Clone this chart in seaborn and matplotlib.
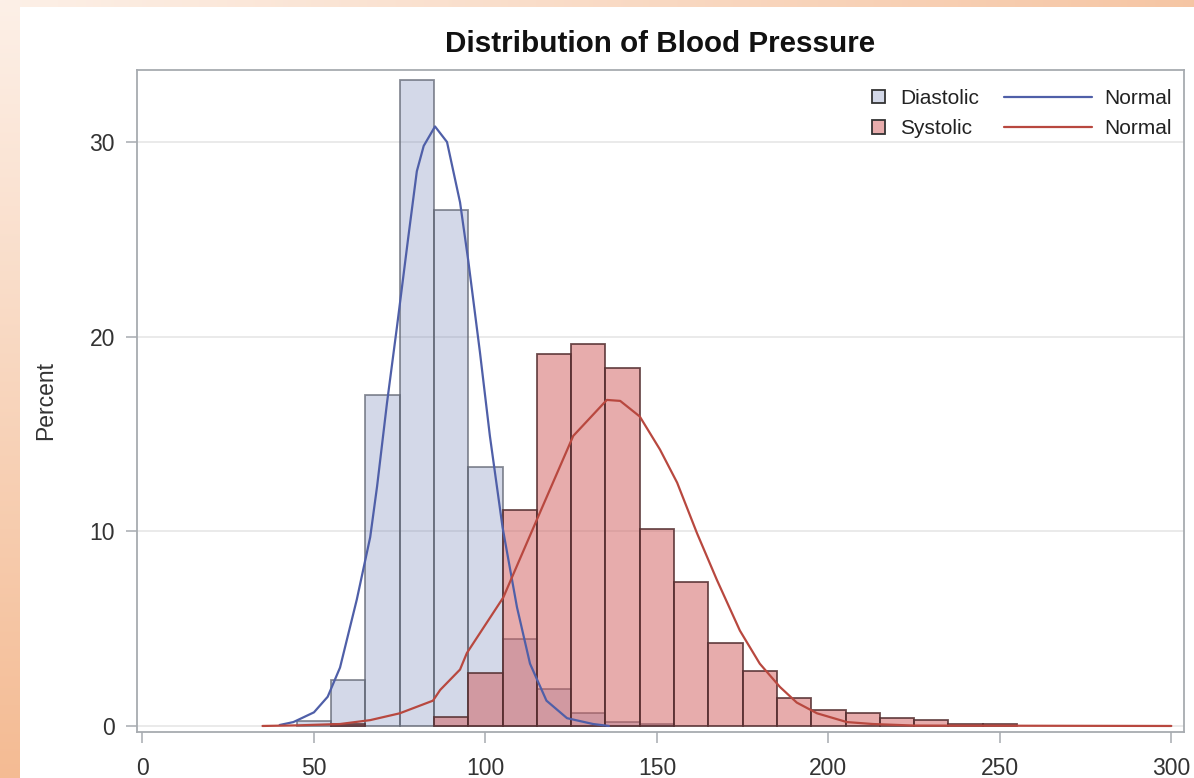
import numpy as np
import pandas as pd
import matplotlib
matplotlib.use("Agg")
import matplotlib.pyplot as plt
from matplotlib.patches import Patch, Rectangle
from matplotlib.lines import Line2D
import seaborn as sns

# ---------------- data ----------------
bin_centers = [50, 60, 70, 80, 90, 100, 110, 120, 130, 140, 150,
               160, 170, 180, 190, 200, 210, 220, 230, 240, 250]
diastolic_pct = [0.26, 2.35, 17.0, 33.2, 26.5, 13.3, 4.45, 1.9, 0.65, 0.2, 0.08,
                 0, 0, 0, 0, 0, 0, 0, 0, 0, 0]
systolic_pct = [0, 0.08, 0, 0, 0.45, 2.7, 11.1, 19.1, 19.6, 18.4, 10.1,
                7.4, 4.25, 2.8, 1.45, 0.82, 0.65, 0.43, 0.33, 0.12, 0.12]

dia_curve_x = [40, 44, 50, 54, 57.6, 62.5, 66.4, 68.4, 71.3, 74.2, 77.5, 80, 82,
               85.3, 88.8, 92.6, 95, 98.4, 101.3, 105, 109.2, 113, 117.8, 123.8, 131.4, 136]
dia_curve_y = [0.05, 0.2, 0.7, 1.5, 3.0, 6.5, 9.7, 12.3, 16.6, 20.5, 25.1, 28.5, 29.8,
               30.8, 30.0, 26.9, 23.9, 19.2, 14.9, 10.2, 6.1, 3.2, 1.3, 0.4, 0.1, 0.0]

sys_curve_x = [35, 45, 57.6, 66.4, 75, 84.7, 86.8, 92.6, 94.6, 105.2, 115, 125.6, 135.4,
               139.3, 145, 150.9, 155.9, 161.7, 167.5, 174.2, 180, 185.9, 190.8, 196.7,
               205.4, 213, 225, 300]
sys_curve_y = [0, 0.03, 0.1, 0.3, 0.65, 1.3, 1.85, 2.9, 3.75, 6.6, 10.6, 14.9, 16.75,
               16.7, 15.9, 14.2, 12.5, 9.9, 7.5, 4.9, 3.2, 2.0, 1.2, 0.65,
               0.2, 0.1, 0.02, 0]

x_ticks = [0, 50, 100, 150, 200, 250, 300]
y_ticks = [0, 10, 20, 30]
bin_edges = list(range(45, 265, 10))

# ---------------- styling ----------------
sns.set_theme(style="white")
plt.rcParams["font.family"] = ["Liberation Sans", "DejaVu Sans"]

W, H = 1194, 778
fig = plt.figure(figsize=(W / 100, H / 100), dpi=100)

# orange gradient background + white panel
bg = fig.add_axes([0, 0, 1, 1], zorder=-10)
yy, xx = np.mgrid[0:H, 0:W]
t = np.clip(0.22 + 0.78 * np.maximum(xx / W * 0.8, yy / H), 0, 1)
white = np.array([1.0, 1.0, 1.0])
orange = np.array([0xf4, 0xbb, 0x93]) / 255.0
img = white[None, None, :] * (1 - t[..., None]) + orange[None, None, :] * t[..., None]
bg.imshow(img, extent=[0, W, H, 0], aspect="auto")
bg.add_patch(Rectangle((20, 7), W - 20, H - 7, facecolor="white", edgecolor="none"))
bg.set_xlim(0, W)
bg.set_ylim(H, 0)
bg.axis("off")

L, R, T, B = 137, 1184, 70, 732
ax = fig.add_axes([L / W, 1 - B / H, (R - L) / W, (B - T) / H])
ax.set_facecolor("white")

df = pd.DataFrame({"center": bin_centers, "Diastolic": diastolic_pct, "Systolic": systolic_pct})

blue = "#6F7EB3"
red = "#D05B5B"
blue_face = matplotlib.colors.to_rgba(blue, 0.30)
red_face = matplotlib.colors.to_rgba(red, 0.50)
blue_edge = (0.38, 0.40, 0.45, 0.75)
red_edge = (0.33, 0.18, 0.19, 0.85)

sns.histplot(data=df, x="center", weights="Diastolic", bins=bin_edges, ax=ax,
             stat="count", facecolor=blue_face, edgecolor=blue_edge, linewidth=1.3)
sns.histplot(data=df, x="center", weights="Systolic", bins=bin_edges, ax=ax,
             stat="count", facecolor=red_face, edgecolor=red_edge, linewidth=1.3)
for p in ax.patches:
    if p.get_height() <= 0:
        p.set_visible(False)

sns.lineplot(x=dia_curve_x, y=dia_curve_y, ax=ax, color="#4f5fa8", lw=1.6,
             sort=False, estimator=None)
sns.lineplot(x=sys_curve_x, y=sys_curve_y, ax=ax, color="#b8483f", lw=1.6,
             sort=False, estimator=None)

ax.set_xlim(-1.6, 303.7)
ax.set_ylim(-0.31, 33.7)
ax.set_xticks(x_ticks)
ax.set_yticks(y_ticks)
ax.set_xticklabels([str(v) for v in x_ticks])
ax.set_yticklabels([str(v) for v in y_ticks])
for yv in y_ticks:
    ax.axhline(yv, color="#e4e4e4", lw=1.1, zorder=0)

frame_c = "#a7abb0"
for s in ax.spines.values():
    s.set_color(frame_c)
    s.set_linewidth(1.3)
ax.tick_params(axis="both", which="both", direction="out", length=8, width=1.1,
               color=frame_c, labelsize=16.5, labelcolor="#333333", pad=8,
               bottom=True, left=True)
ax.tick_params(axis="x", pad=10)
ax.set_xlabel("")
ax.set_ylabel("Percent", fontsize=16.5, color="#333333")
ax.yaxis.set_label_coords((57 - L) / (R - L), 0.5)

ax.set_title("Distribution of Blood Pressure", fontsize=21.3, fontweight="bold",
             color="#111111", pad=13)

# legends
h1 = [Patch(facecolor=blue_face, edgecolor="#333333", lw=1.3),
      Patch(facecolor=red_face, edgecolor="#333333", lw=1.3)]
leg1 = fig.legend(h1, ["Diastolic", "Systolic"], loc="upper left",
                  bbox_to_anchor=(872 / W, 1 - 89 / H), frameon=False, fontsize=15,
                  handlelength=0.63, handleheight=0.63, handletextpad=0.72,
                  labelspacing=0.55, borderpad=0, borderaxespad=0)
h2 = [Line2D([], [], color="#4f5fa8", lw=1.6), Line2D([], [], color="#b8483f", lw=1.6)]
leg2 = fig.legend(h2, ["Normal", "Normal"], loc="upper left",
                  bbox_to_anchor=(1004 / W, 1 - 89 / H), frameon=False, fontsize=15,
                  handlelength=4.2, handletextpad=0.6,
                  labelspacing=0.55, borderpad=0, borderaxespad=0)
for lg in (leg1, leg2):
    for txt in lg.get_texts():
        txt.set_color("#222222")

fig.savefig("out.png", dpi=100)
